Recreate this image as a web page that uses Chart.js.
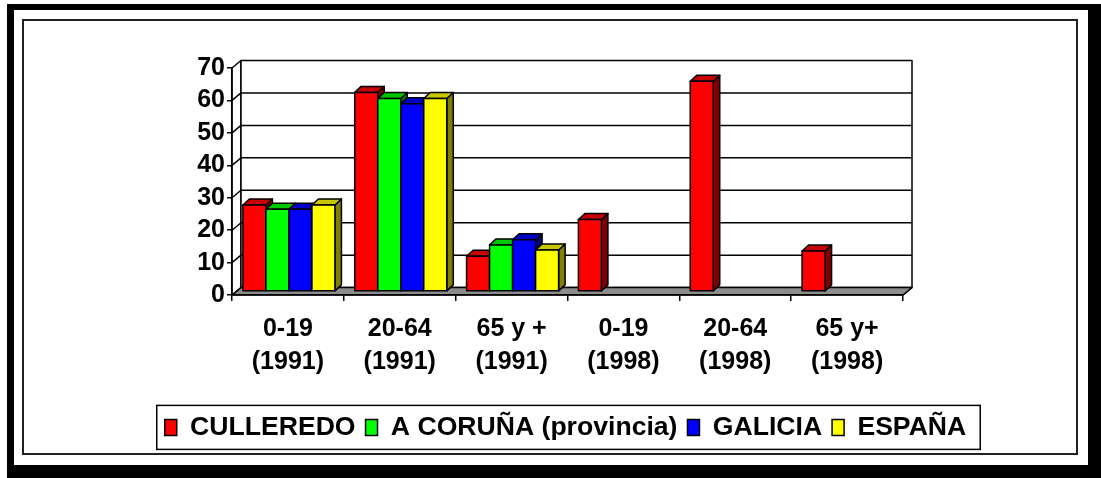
<!DOCTYPE html>
<html>
<head>
<meta charset="utf-8">
<script src="https://cdn.jsdelivr.net/npm/chart.js@4.4.1/dist/chart.umd.min.js"></script>
<style>
html, body { margin: 0; padding: 0; background: #fff; }
#wrap { width: 1101px; height: 478px; }
</style>
</head>
<body>
<div id="wrap"><canvas id="myChart"></canvas></div>
<script>
'use strict'

const categories = [['0-19', '(1991)'], ['20-64', '(1991)'], ['65 y +', '(1991)'], ['0-19', '(1998)'], ['20-64', '(1998)'], ['65 y+', '(1998)']]
const seriesNames = ['CULLEREDO', 'A CORUÑA (provincia)', 'GALICIA', 'ESPAÑA']
const culleredo = [26.7, 61.4, 10.9, 22.2, 64.8, 12.5]
const aCoruna = [25.4, 59.5, 14.4, null, null, null]
const galicia = [25.4, 57.9, 16.0, null, null, null]
const espana = [26.7, 59.5, 12.8, null, null, null]
const yMin = 0, yMax = 70, yStep = 10
const barColors = ['#ff0000', '#00ff00', '#0000ff', '#ffff00']

// fake 3d: back wall offset, bar plane offset, bar depth
const DX = 9, DY = -7.5
const BAR_X = 1, BAR_Y = -3.5
const BAR_DX = 6.5, BAR_DY = -6
const LEGEND_SHIFT = 104

function shade(hex, f) {
	const n = parseInt(hex.slice(1), 16)
	const r = Math.round(((n >> 16) & 255) * f), g = Math.round(((n >> 8) & 255) * f), b = Math.round((n & 255) * f)
	return 'rgb(' + r + ',' + g + ',' + b + ')'
}

function poly(ctx, pts, fill) {
	ctx.beginPath()
	ctx.moveTo(pts[0][0], pts[0][1])
	for (let i = 1; i < pts.length; i++) ctx.lineTo(pts[i][0], pts[i][1])
	ctx.closePath()
	if (fill) { ctx.fillStyle = fill; ctx.fill() }
	ctx.stroke()
}

const frame3d = {
	id: 'frame3d',
	afterLayout(chart) {
		chart.legend.left += LEGEND_SHIFT
		chart.legend.right += LEGEND_SHIFT
	},
	beforeDraw(chart) {
		const ctx = chart.ctx
		ctx.save()
		ctx.fillStyle = '#fff'
		ctx.fillRect(0, 0, chart.width, chart.height)
		ctx.fillStyle = '#000'
		ctx.fillRect(7, 4, chart.width - 7, chart.height - 4)
		ctx.fillStyle = '#fff'
		ctx.fillRect(14, 10, 1074, 455)
		ctx.strokeStyle = '#222'
		ctx.lineWidth = 2
		ctx.strokeRect(23, 20, 1054, 434)

		const a = chart.chartArea, ys = chart.scales.y
		const y0 = ys.getPixelForValue(yMin), yT = ys.getPixelForValue(yMax)
		ctx.strokeStyle = '#000'
		ctx.lineWidth = 1.5
		ctx.lineJoin = 'round'
		poly(ctx, [[a.left, yT], [a.left + DX, yT + DY], [a.left + DX, y0 + DY], [a.left, y0]], '#fff')
		poly(ctx, [[a.left + DX, yT + DY], [a.right + DX, yT + DY], [a.right + DX, y0 + DY], [a.left + DX, y0 + DY]], '#fff')
		poly(ctx, [[a.left, y0], [a.left + DX, y0 + DY], [a.right + DX, y0 + DY], [a.right, y0]], '#8c8c8c')
		ys.ticks.forEach(t => {
			if (t.value <= yMin || t.value >= yMax) return
			const py = ys.getPixelForValue(t.value)
			ctx.beginPath()
			ctx.moveTo(a.left, py)
			ctx.lineTo(a.left + DX, py + DY)
			ctx.lineTo(a.right + DX, py + DY)
			ctx.stroke()
		})
		ctx.restore()
	},
	beforeDatasetsDraw(chart) {
		const ctx = chart.ctx
		const sets = chart.data.datasets
		ctx.save()
		ctx.strokeStyle = '#000'
		ctx.lineWidth = 1.5
		ctx.lineJoin = 'round'
		for (let c = 0; c < chart.data.labels.length; c++) {
			sets.forEach((ds, i) => {
				if (ds.data[c] == null) return
				const bar = chart.getDatasetMeta(i).data[c]
				const p = bar.getProps(['x', 'y', 'base', 'width'], true)
				const l = p.x - p.width / 2 + BAR_X, r = p.x + p.width / 2 + BAR_X
				const t = p.y + BAR_Y, b = p.base + BAR_Y
				poly(ctx, [[r, t], [r + BAR_DX, t + BAR_DY], [r + BAR_DX, b + BAR_DY], [r, b]], shade(ds.backgroundColor, 0.5))
				poly(ctx, [[l, t], [r, t], [r + BAR_DX, t + BAR_DY], [l + BAR_DX, t + BAR_DY]], shade(ds.backgroundColor, 0.78))
				poly(ctx, [[l, t], [r, t], [r, b], [l, b]], ds.backgroundColor)
			})
		}
		ctx.restore()
		return false
	},
	afterDraw(chart) {
		const boxes = chart.legend.legendHitBoxes
		if (!boxes || !boxes.length) return
		const first = boxes[0], last = boxes[boxes.length - 1]
		const ctx = chart.ctx
		const cy = first.top + first.height / 2
		ctx.save()
		ctx.strokeStyle = '#000'
		ctx.lineWidth = 1.5
		ctx.strokeRect(first.left - 8, cy - 22, last.left + last.width + 14 - (first.left - 8), 44)
		ctx.restore()
	}
}

const fontFamily = "'Liberation Sans', Arial, sans-serif"

new Chart(document.getElementById('myChart'), {
	type: 'bar',
	data: {
		labels: categories,
		datasets: [culleredo, aCoruna, galicia, espana].map((vals, i) => ({
			label: seriesNames[i],
			data: vals,
			backgroundColor: barColors[i],
			borderColor: '#000',
			borderWidth: 1.5,
			categoryPercentage: 0.823,
			barPercentage: 1.0
		}))
	},
	options: {
		responsive: true,
		maintainAspectRatio: false,
		animation: false,
		layout: { padding: { left: 20, right: 198, top: 68, bottom: 27.3 } },
		plugins: {
			tooltip: { enabled: false },
			legend: {
				position: 'bottom',
				labels: {
					color: '#000',
					font: { family: fontFamily, size: 26.6, weight: 'bold' },
					boxWidth: 12,
					boxHeight: 16,
					padding: 10
				}
			}
		},
		scales: {
			x: {
				afterFit(scale) { scale.height = 109 },
				grid: { drawOnChartArea: false, drawTicks: true, tickLength: 6, color: '#000', lineWidth: 1.5 },
				border: { color: '#000', width: 1.5 },
				ticks: {
					color: '#000',
					padding: 12,
					maxRotation: 0,
					autoSkip: false,
					font: { family: fontFamily, size: 25, weight: 'bold', lineHeight: 1.3 }
				}
			},
			y: {
				min: yMin,
				max: yMax,
				afterFit(scale) { scale.width = 212 },
				grid: { drawOnChartArea: false, drawTicks: true, tickLength: 5, color: '#000', lineWidth: 1.5 },
				border: { color: '#000', width: 1.5 },
				ticks: {
					stepSize: yStep,
					autoSkip: false,
					color: '#000',
					padding: 2,
					font: { family: fontFamily, size: 25, weight: 'bold' }
				}
			}
		}
	},
	plugins: [frame3d]
})
</script>
</body>
</html>
